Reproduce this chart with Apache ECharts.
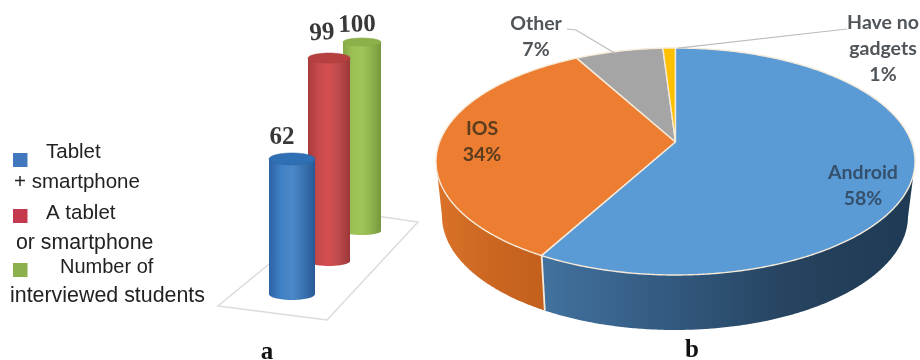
<!DOCTYPE html>
<html>
<head>
<meta charset="utf-8">
<style>html,body{margin:0;padding:0;background:#fff}#c{width:920px;height:360px;filter:blur(0.5px)}</style>
<script src="https://cdn.jsdelivr.net/npm/echarts@6/dist/echarts.min.js"></script>
</head>
<body>
<div id="c"></div>
<script>
// ---- data ----
const barCategories = ['Tablet + smartphone', 'A tablet or smartphone', 'Number of interviewed students'];
const barValues = [62, 99, 100];
const legendLines = ['Tablet', '+ smartphone', 'A tablet', 'or smartphone', 'Number of', 'interviewed students'];
const pieCategories = ['Android', 'IOS', 'Other', 'Have no\ngadgets'];
const pieValues = [58, 34, 7, 1];
const panelLabels = ['a', 'b'];

// ---- styling / layout ----
const cylStyles = [
  { dx: 0,    dy: 0,   k: 1.089, rx: 23, ry: 6, ldx: -10, lgap: 21, rot: 0,
    top: '#2f6fb4', side: ['#2d62a6', '#3f7fc4', '#4c88c8', '#3a73b0', '#2a5a96'], mark: '#4178bd' },
  { dx: 1.5,  dy: -33, k: 1.025, rx: 21, ry: 5, ldx: -7,  lgap: 26, rot: 0.07,
    top: '#b5403f', side: ['#a83a3c', '#c94a4c', '#d44e50', '#bb4a4c', '#9c3638'], mark: '#c5394e' },
  { dx: -1,   dy: -63, k: 0.945, rx: 19, ry: 4, ldx: -5,  lgap: 19, rot: 0.03,
    top: '#8db04a', side: ['#86a948', '#9cc054', '#a2c55a', '#8fb24c', '#76983e'], mark: '#8db04f' }
];
const legendRows = [
  { x: 46, y: 152, s: 20.5 }, { x: 14, y: 182, s: 20.5 }, { x: 46, y: 213, s: 20.5 },
  { x: 16, y: 243, s: 21.3 }, { x: 60, y: 267, s: 20 }, { x: 10, y: 296, s: 21.4 }
];
const legendMarks = [{ y: 153 }, { y: 209 }, { y: 263 }];
const floorPts = [[218, 306], [327, 320], [418, 222], [335, 210]];

const PIE = { cx: 675.5, cy: 161.5, rx: 239.5, ry: 113.5, e: 0.172, bcx: 675, bcy: 216, brx: 233, bry: 114 };
const pieFaces = ['#5b9bd5', '#ed7d31', '#a5a5a5', '#ffc000'];
const pieWalls = [
  ['#42729f', '#335a80', '#26435f', '#1e3a54'],
  ['#db7228', '#d06a24', '#c8641f', '#c2601c']
];
const pieLabelPos = [
  { x: 863, y: 186, c: '#34506c' }, { x: 482, y: 141.5, c: '#5a3c1e' },
  { x: 536, y: 37, c: '#50555a' }, { x: 883, y: 49, c: '#50555a' }
];
const edge = '#f6ead9';

function grad(cols) {
  return { type: 'linear', x: 0, y: 0, x2: 1, y2: 0,
    colorStops: cols.map((c, i) => ({ offset: i / (cols.length - 1), color: c })) };
}
function ellipsePts(cx, cy, rx, ry, a0, a1, n) {
  const p = [];
  for (let i = 0; i <= n; i++) {
    const a = a0 + (a1 - a0) * i / n;
    p.push([cx + rx * Math.cos(a), cy + ry * Math.sin(a)]);
  }
  return p;
}

// ---- cylinders: height comes from the value axis ----
function renderCyl(params, api) {
  const i = params.dataIndex, s = cylStyles[i], val = api.value(1);
  const base = api.coord([i, 0]);
  const x = base[0] + s.dx, yb = base[1] + s.dy;
  const h = api.size([0, val])[1] * s.k;
  const yt = yb - h;
  const z = 10 + 2 * (2 - i);
  const bottom = ellipsePts(x, yb, s.rx, s.ry, 0, Math.PI, 40);
  const body = [[x + s.rx, yt]].concat(bottom, [[x - s.rx, yt]]);
  return { type: 'group', children: [
    { type: 'polygon', z2: z, shape: { points: body }, style: { fill: grad(s.side) } },
    { type: 'polygon', z2: z + 1, shape: { points: ellipsePts(x, yt, s.rx, s.ry, 0, Math.PI * 2, 48) },
      style: { fill: s.top, stroke: s.side[0], lineWidth: 0.5 } },
    { type: 'text', z2: 40, rotation: s.rot, x: x + s.ldx, y: yt - s.ry - s.lgap + 6,
      style: { text: String(val), align: 'center', verticalAlign: 'middle',
        font: 'bold 25px "Liberation Serif"', fill: '#383838' } }
  ] };
}

// ---- 3D pie: slices from shares, drawn on a perspective-mapped disc ----
function rimPoint(t) {
  const e = PIE.e, u = Math.sin(t), v = Math.cos(t), d = 1 + e * v;
  return [u * Math.sqrt(1 - e * e) / d, (v + e) / d];
}
function topXY(p) { return [PIE.cx + PIE.rx * p[0], PIE.cy - PIE.ry * p[1]]; }
function botXY(p) { return [PIE.bcx + PIE.brx * p[0], PIE.bcy - PIE.bry * p[1]]; }

function renderPie(params, api) {
  const i = params.dataIndex;
  const total = pieValues.reduce((a, b) => a + b, 0);
  const before = pieValues.slice(0, i).reduce((a, b) => a + b, 0);
  const t0 = before / total * Math.PI * 2;
  const t1 = (before + api.value(0)) / total * Math.PI * 2;
  const n = Math.max(4, Math.round((t1 - t0) * 120));
  const rim = [];
  for (let k = 0; k <= n; k++) rim.push(rimPoint(t0 + (t1 - t0) * k / n));
  const apex = topXY([0, PIE.e]);
  const children = [];
  const low = rim.filter(p => p[1] <= 0);
  if (low.length > 1 && pieWalls[i]) {
    const wall = low.map(topXY).concat(low.slice().reverse().map(botXY));
    children.push({ type: 'polygon', z2: 1, shape: { points: wall }, style: { fill: grad(pieWalls[i]) } });
  }
  if (i === 0) {
    const pe = rim[rim.length - 1];
    children.push({ type: 'polyline', z2: 3, shape: { points: [topXY(pe), botXY(pe)] },
      style: { stroke: edge, lineWidth: 1.8, fill: null } });
  }
  children.push({ type: 'polygon', z2: 2 + (i === 0 ? 1 : 0),
    shape: { points: [apex].concat(rim.map(topXY)) },
    style: { fill: pieFaces[i], stroke: edge, lineWidth: 1.4, lineJoin: 'round' } });
  const lp = pieLabelPos[i];
  children.push({ type: 'text', z2: 20, x: lp.x, y: lp.y,
    style: { text: pieCategories[i] + '\n' + api.value(0) + '%', align: 'center', verticalAlign: 'middle',
      font: 'bold 19.5px Lato', lineHeight: 26, fill: lp.c } });
  if (i === 2) {
    const q = topXY(rimPoint((t0 + t1) / 2));
    children.push({ type: 'polyline', z2: 15, shape: { points: [[567, 29], [576, 30], [q[0] - 4, q[1] + 2]] },
      style: { stroke: '#bcbcbc', lineWidth: 1.2, fill: null } });
  }
  if (i === 3) {
    const q = topXY(rimPoint((t0 + t1) / 2));
    children.push({ type: 'polyline', z2: 15, shape: { points: [[847, 29], [838, 30], [q[0] + 9, q[1]]] },
      style: { stroke: '#bcbcbc', lineWidth: 1.2, fill: null } });
  }
  return { type: 'group', children };
}

// ---- static furniture ----
const graphics = [
  { type: 'polygon', z: 0, silent: true, shape: { points: floorPts },
    style: { fill: '#ffffff', stroke: '#dcdcdc', lineWidth: 1.5 } }
];
legendLines.forEach((t, i) => graphics.push({ type: 'text', z: 5, x: legendRows[i].x, y: legendRows[i].y,
  style: { text: t, align: 'left', verticalAlign: 'middle',
    font: legendRows[i].s + 'px "Liberation Sans"', fill: '#222222' } }));
legendMarks.forEach((m, i) => graphics.push({ type: 'rect', z: 5,
  shape: { x: 13, y: m.y, width: 14.5, height: 14 }, style: { fill: cylStyles[i].mark } }));
[[267, 353], [692, 351]].forEach((p, i) => graphics.push({ type: 'text', z: 5, x: p[0], y: p[1],
  style: { text: panelLabels[i], align: 'center', verticalAlign: 'middle',
    font: 'bold 25px "Liberation Serif"', fill: '#111111' } }));

const chart = echarts.init(document.getElementById('c'), null, { renderer: 'canvas' });
chart.setOption({
  animation: false,
  backgroundColor: '#ffffff',
  grid: { left: 274.25, width: 106.5, top: 94, height: 200 },
  xAxis: { type: 'category', data: barCategories, show: false },
  yAxis: { type: 'value', min: 0, max: 100, show: false },
  graphic: graphics,
  series: [
    { type: 'custom', name: 'Students', coordinateSystem: 'cartesian2d', z: 3, clip: false,
      renderItem: renderCyl, encode: { x: 0, y: 1 },
      data: barValues.map((v, i) => [i, v]) },
    { type: 'custom', name: 'Gadgets', coordinateSystem: 'none', z: 3,
      renderItem: renderPie, data: pieValues.map(v => [v]) }
  ]
});
</script>
</body>
</html>
